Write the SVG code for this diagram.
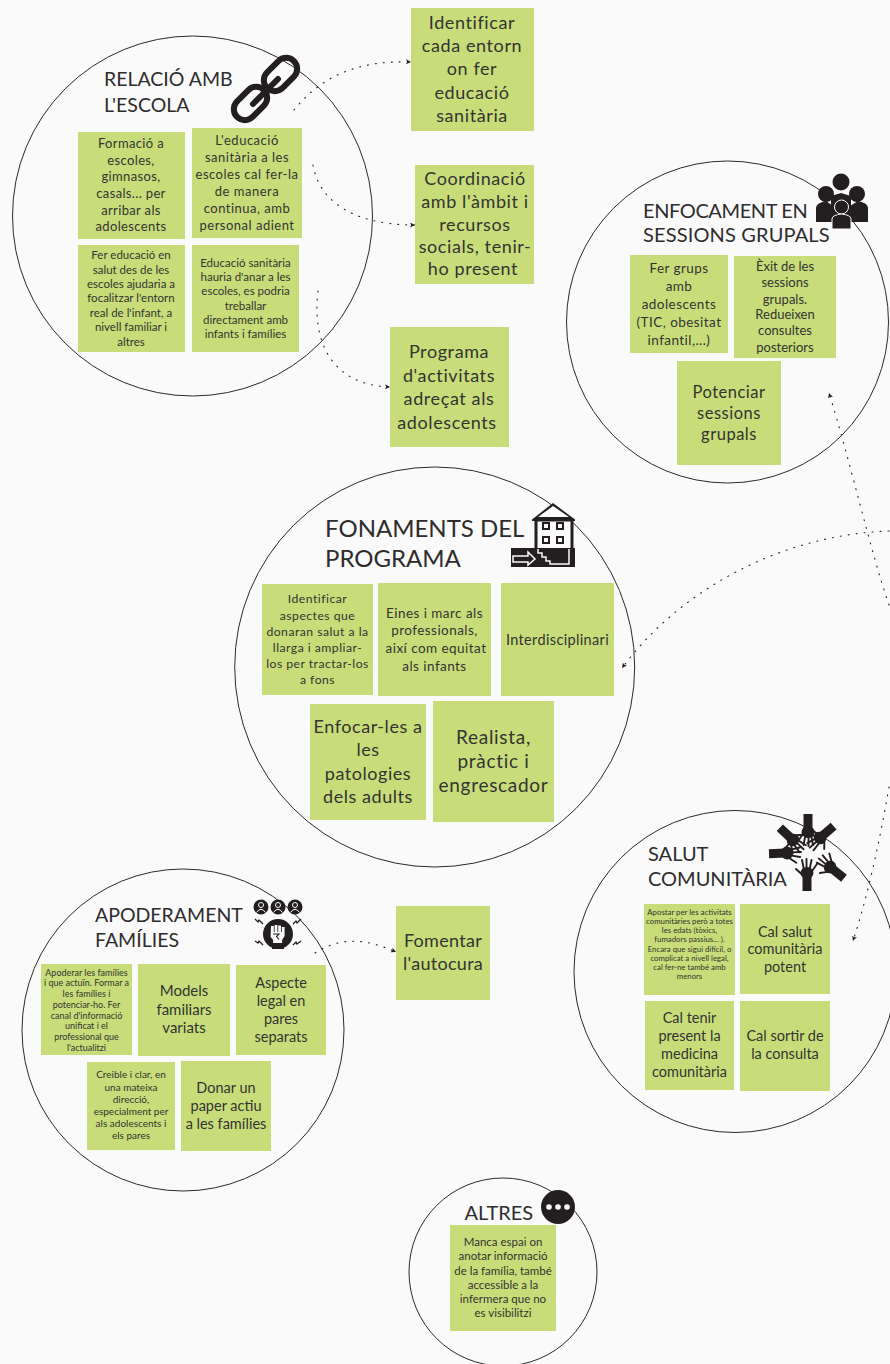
<svg xmlns="http://www.w3.org/2000/svg" xmlns:xlink="http://www.w3.org/1999/xlink" width="890" height="1364" viewBox="0 0 890 1364">
<style>
text{font-family:"Lato","Open Sans","Liberation Sans",sans-serif;fill:#333;text-anchor:middle}
.title{text-anchor:start;fill:#2e2c2d}
.circle{fill:none;stroke:#2a2a2a;stroke-width:1}
.note{fill:#c8dd79}
.ic{fill:#231f20}
.wh{fill:#fafafa}
.link{fill:none;stroke:#231f20;stroke-width:1.100;stroke-dasharray:1 7;stroke-linecap:round}
</style>
<defs>
<marker id="ah" markerWidth="6" markerHeight="6" refX="5" refY="2.500" orient="auto" markerUnits="userSpaceOnUse"><path d="M0,0L5,2.500L0,5L1.200,2.500Z" fill="#231f20"/></marker>
<g id="hand"><rect x="-4.500" y="-18" width="9" height="16" class="ic"/><ellipse cx="0" cy="0" rx="6.500" ry="6" class="ic"/><path d="M-5,2L-10,9M-2.500,3L-4.500,13M0.500,4L0.500,14M3,3L5,13M5.500,-1L11,4" fill="none" stroke="#231f20" stroke-width="1.900" stroke-linecap="round"/></g>
</defs>
<rect width="890" height="1364" fill="#fafafa"/>

<g id="circles">
<circle class="circle" cx="192.500" cy="216" r="180"/>
<circle class="circle" cx="727.500" cy="322" r="161"/>
<circle class="circle" cx="434.700" cy="667" r="200"/>
<circle class="circle" cx="735" cy="971.500" r="161"/>
<circle class="circle" cx="183" cy="1030" r="161"/>
<circle class="circle" cx="503" cy="1272" r="94"/>
</g>

<g id="titles">
<text class="title" font-size="19.500"><tspan x="104" y="86">RELACIÓ AMB</tspan><tspan x="104" y="111.500">L'ESCOLA</tspan></text>
<text class="title" font-size="20"><tspan x="643" y="218" letter-spacing="-0.400">ENFOCAMENT EN</tspan><tspan x="643" y="242" letter-spacing="0.150">SESSIONS GRUPALS</tspan></text>
<text class="title" font-size="24"><tspan x="325" y="536.500">FONAMENTS DEL</tspan><tspan x="325" y="566.500">PROGRAMA</tspan></text>
<text class="title" font-size="20"><tspan x="648" y="861">SALUT</tspan><tspan x="648" y="886">COMUNITÀRIA</tspan></text>
<text class="title" font-size="19.500"><tspan x="95" y="922">APODERAMENT</tspan><tspan x="95" y="947">FAMÍLIES</tspan></text>
<text class="title" font-size="20" x="464.500" y="1219.500">ALTRES</text>
</g>

<g id="icon-link" fill="none" stroke="#231f20">
<rect x="-11" y="-19" width="22" height="38" rx="11" stroke-width="6" transform="translate(280.500,74.500) rotate(45)"/>
<rect x="-11" y="-19" width="22" height="38" rx="11" stroke-width="6" transform="translate(250.500,103.500) rotate(45)"/>
<path d="M253,104L278,79" stroke-width="6" stroke-linecap="round"/>
</g>
<g id="icon-group">
<circle class="ic" cx="841" cy="182" r="8.500"/><circle class="ic" cx="826" cy="194" r="8"/><circle class="ic" cx="857" cy="194" r="8"/>
<path class="ic" d="M816,222V208Q816,203 826,201L833,206H850L858,201Q868,203 868,208V222Z"/>
<path class="ic" d="M831,196L841,193L851,196L851,215H831Z"/>
<circle class="ic" cx="841.500" cy="207" r="7" stroke="#fafafa" stroke-width="1"/>
<path class="ic" d="M832,229V219Q832,215 841.500,214Q851,215 851,219V229Z" stroke="#fafafa" stroke-width="1"/>
</g>
<g id="icon-house">
<path class="ic" d="M532,519.500L553,503L575,519.500V521H532Z"/><path class="wh" d="M538,517L553,506L569,517Z"/>
<rect x="536" y="520" width="36" height="30" class="wh" stroke="#231f20" stroke-width="3"/>
<g fill="#fafafa" stroke="#231f20" stroke-width="2"><rect x="543" y="523" width="6" height="6"/><rect x="557" y="523" width="6" height="6"/><rect x="543" y="537" width="6" height="6"/><rect x="557" y="537" width="6" height="6"/></g>
<rect class="ic" x="511" y="548" width="64" height="19"/>
<path d="M513,556H528V552L535,559L528,565V562H513Z" fill="none" stroke="#fafafa" stroke-width="1.500"/>
<path d="M538,549V553H542V557H546V561H550V564H569V549" fill="none" stroke="#fafafa" stroke-width="1.500"/>
</g>
<g id="icon-hands">
<use xlink:href="#hand" href="#hand" transform="translate(808,832)"/>
<use xlink:href="#hand" href="#hand" transform="translate(820,838) rotate(49)"/>
<use xlink:href="#hand" href="#hand" transform="translate(830,867) rotate(129)"/>
<use xlink:href="#hand" href="#hand" transform="translate(807,873) rotate(180)"/>
<use xlink:href="#hand" href="#hand" transform="translate(787,853) rotate(268)"/>
<use xlink:href="#hand" href="#hand" transform="translate(793,840) rotate(-47)"/>
</g>
<g id="icon-fist">
<circle class="ic" cx="261" cy="907" r="7.500"/><circle class="ic" cx="278" cy="907" r="7.500"/><circle class="ic" cx="295" cy="907" r="7.500"/>
<g fill="none" stroke="#fafafa" stroke-width="1"><circle cx="261" cy="905" r="2.500"/><path d="M256.500,912.500Q261,906 265.500,912.500"/><circle cx="278" cy="905" r="2.500"/><path d="M273.500,912.500Q278,906 282.500,912.500"/><circle cx="295" cy="905" r="2.500"/><path d="M290.500,912.500Q295,906 299.500,912.500"/></g>
<circle class="ic" cx="278" cy="934" r="15"/>
<path class="wh" d="M271,926h2.800v6h.8v-7h2.800v7h.8v-6.500h2.800v6.500h.8v-5h2.800v9l-2.500,4v3h-9v-3l-2.500,-3Z"/>
<path d="M273,934h6l-2.500,2.500l2.500,3" fill="none" stroke="#231f20" stroke-width="1.100"/>
<path class="ic" d="M272,946h12v3h-12Z"/>
<g fill="none" stroke="#231f20" stroke-width="1.300"><path d="M255,919l3,3l1,-2l4,4"/><path d="M293,924l3,-3l1,2l4,-4"/><path d="M255,941l3,2l1,-2l4,4"/><path d="M293,945l3,-3l1,2l4,-3"/></g>
</g>
<g id="icon-more">
<circle class="ic" cx="558" cy="1207" r="17"/><circle class="wh" cx="549" cy="1207" r="2.800"/><circle class="wh" cx="558" cy="1207" r="2.800"/><circle class="wh" cx="567" cy="1207" r="2.800"/>
</g>

<g id="connectors">
<path class="link" marker-end="url(#ah)" d="M294,110C320,78 355,60 411,62"/>
<path class="link" marker-end="url(#ah)" d="M313,165C318,195 345,225 415,225"/>
<path class="link" marker-end="url(#ah)" d="M318,291C312,340 330,385 390,387"/>
<path class="link" marker-end="url(#ah)" d="M315,953C340,937 365,938 396,952"/>
<path class="link" marker-end="url(#ah)" d="M889,605C870,550 850,460 829,393"/>
<path class="link" marker-end="url(#ah)" d="M889,531C780,535 680,590 622,668"/>
<path class="link" marker-end="url(#ah)" d="M889,787C880,840 868,895 853,941"/>
</g>

<g id="n1"><rect class="note" x="411" y="8" width="123" height="123"/><text font-size="18" letter-spacing="0.600"><tspan x="472" y="29">Identificar</tspan><tspan x="472" y="52">cada entorn</tspan><tspan x="472" y="75">on fer</tspan><tspan x="472" y="99">educació</tspan><tspan x="472" y="122">sanitària</tspan></text></g>
<g id="n2"><rect class="note" x="415" y="165" width="119" height="119"/><text font-size="18" letter-spacing="0.600"><tspan x="475" y="185">Coordinació</tspan><tspan x="475" y="208">amb l'àmbit i</tspan><tspan x="475" y="231">recursos</tspan><tspan x="475" y="253">socials, tenir-</tspan><tspan x="473" y="275">ho present</tspan></text></g>
<g id="n3"><rect class="note" x="390" y="327" width="119" height="120"/><text font-size="18" letter-spacing="0.600"><tspan x="449" y="358">Programa</tspan><tspan x="449" y="382">d'activitats</tspan><tspan x="449" y="405">adreçat als</tspan><tspan x="447" y="429">adolescents</tspan></text></g>
<g id="n4"><rect class="note" x="78" y="132" width="107" height="107"/><text font-size="13" letter-spacing="0.350"><tspan x="131" y="148">Formació a</tspan><tspan x="131" y="165">escoles,</tspan><tspan x="131" y="181">gimnasos,</tspan><tspan x="131" y="198">casals... per</tspan><tspan x="131" y="215">arribar als</tspan><tspan x="131" y="231">adolescents</tspan></text></g>
<g id="n5"><rect class="note" x="192" y="128" width="110" height="110"/><text font-size="13" letter-spacing="0.500"><tspan x="247" y="145">L'educació</tspan><tspan x="247" y="162">sanitària a les</tspan><tspan x="247" y="179">escoles cal fer-la</tspan><tspan x="247" y="196">de manera</tspan><tspan x="247" y="213">continua, amb</tspan><tspan x="247" y="230">personal adient</tspan></text></g>
<g id="n6"><rect class="note" x="78" y="245" width="107" height="107"/><text font-size="11.500"><tspan x="131" y="259">Fer educació en</tspan><tspan x="131" y="274">salut des de les</tspan><tspan x="131" y="288">escoles ajudaria a</tspan><tspan x="131" y="302">focalitzar l'entorn</tspan><tspan x="131" y="317">real de l'infant, a</tspan><tspan x="131" y="331">nivell familiar i</tspan><tspan x="131" y="346">altres</tspan></text></g>
<g id="n7"><rect class="note" x="192" y="245" width="107" height="107"/><text font-size="11.500"><tspan x="245.500" y="267">Educació sanitària</tspan><tspan x="245.500" y="281">hauria d'anar a les</tspan><tspan x="245.500" y="295">escoles, es podria</tspan><tspan x="245.500" y="310">treballar</tspan><tspan x="245.500" y="324">directament amb</tspan><tspan x="245.500" y="338">infants i famílies</tspan></text></g>

<g id="n8"><rect class="note" x="630" y="255" width="98" height="98"/><text font-size="13.500" letter-spacing="0.450"><tspan x="679" y="273">Fer grups</tspan><tspan x="679" y="291">amb</tspan><tspan x="679" y="309">adolescents</tspan><tspan x="679" y="327">(TIC, obesitat</tspan><tspan x="679" y="345">infantil,...)</tspan></text></g>
<g id="n9"><rect class="note" x="734" y="256" width="102" height="102"/><text font-size="13"><tspan x="785" y="271">Èxit de les</tspan><tspan x="785" y="287">sessions</tspan><tspan x="785" y="304">grupals.</tspan><tspan x="785" y="319">Redueixen</tspan><tspan x="785" y="335">consultes</tspan><tspan x="785" y="352">posteriors</tspan></text></g>
<g id="n10"><rect class="note" x="677" y="361" width="104" height="104"/><text font-size="16.500" letter-spacing="0.500"><tspan x="729" y="397.500">Potenciar</tspan><tspan x="729" y="418.500">sessions</tspan><tspan x="729" y="439.500">grupals</tspan></text></g>

<g id="n11"><rect class="note" x="262" y="584" width="111" height="111"/><text font-size="12.200" letter-spacing="0.480"><tspan x="317.500" y="603">Identificar</tspan><tspan x="317.500" y="620">aspectes que</tspan><tspan x="317.500" y="636">donaran salut a la</tspan><tspan x="317.500" y="652">llarga i ampliar-</tspan><tspan x="317.500" y="668">los per tractar-los</tspan><tspan x="317.500" y="684">a fons</tspan></text></g>
<g id="n12"><rect class="note" x="378" y="583" width="113" height="113"/><text font-size="13.500" letter-spacing="0.450"><tspan x="434.500" y="618">Eines i marc als</tspan><tspan x="434.500" y="635">professionals,</tspan><tspan x="436" y="653">així com equitat</tspan><tspan x="434.500" y="671">als infants</tspan></text></g>
<g id="n13"><rect class="note" x="501" y="583" width="113" height="113"/><text font-size="14.500" letter-spacing="0.350" x="557.500" y="645">Interdisciplinari</text></g>
<g id="n14"><rect class="note" x="310" y="704" width="116" height="116"/><text font-size="18" letter-spacing="0.550"><tspan x="368" y="733">Enfocar-les a</tspan><tspan x="368" y="756">les</tspan><tspan x="368" y="780">patologies</tspan><tspan x="368" y="803">dels adults</tspan></text></g>
<g id="n15"><rect class="note" x="433" y="701" width="121" height="121"/><text font-size="19" letter-spacing="0.700"><tspan x="493.500" y="744">Realista,</tspan><tspan x="493.500" y="768">pràctic i</tspan><tspan x="493.500" y="792">engrescador</tspan></text></g>

<g id="n16"><rect class="note" x="644" y="904" width="91" height="91"/><text font-size="7.800"><tspan x="689.500" y="915">Apostar per les activitats</tspan><tspan x="689.500" y="924">comunitàries però a totes</tspan><tspan x="689.500" y="933">les edats (tòxics,</tspan><tspan x="689.500" y="942">fumadors passius... ).</tspan><tspan x="689.500" y="952">Encara que sigui difícil, o</tspan><tspan x="689.500" y="961">complicat a nivell legal,</tspan><tspan x="689.500" y="970">cal fer-ne també amb</tspan><tspan x="689.500" y="979">menors</tspan></text></g>
<g id="n17"><rect class="note" x="740" y="904" width="90" height="90"/><text font-size="14.500"><tspan x="785" y="937">Cal salut</tspan><tspan x="785" y="954">comunitària</tspan><tspan x="785" y="972">potent</tspan></text></g>
<g id="n18"><rect class="note" x="645" y="1001" width="89" height="89"/><text font-size="14.500"><tspan x="689.500" y="1023">Cal tenir</tspan><tspan x="689.500" y="1041">present la</tspan><tspan x="689.500" y="1059">medicina</tspan><tspan x="689.500" y="1077">comunitària</tspan></text></g>
<g id="n19"><rect class="note" x="740" y="1001" width="90" height="90"/><text font-size="14.500"><tspan x="785" y="1041">Cal sortir de</tspan><tspan x="785" y="1059">la consulta</tspan></text></g>

<g id="n20"><rect class="note" x="41" y="964" width="91" height="91"/><text font-size="9"><tspan x="86.500" y="976">Apoderar les famílies</tspan><tspan x="86.500" y="986">i que actuïn. Formar a</tspan><tspan x="86.500" y="997">les famílies i</tspan><tspan x="86.500" y="1008">potenciar-ho. Fer</tspan><tspan x="86.500" y="1019">canal d'informació</tspan><tspan x="86.500" y="1029">unificat i el</tspan><tspan x="86.500" y="1040">professional que</tspan><tspan x="86.500" y="1051">l'actualitzi</tspan></text></g>
<g id="n21"><rect class="note" x="138" y="964" width="92" height="92"/><text font-size="15"><tspan x="184" y="996">Models</tspan><tspan x="184" y="1015">familiars</tspan><tspan x="184" y="1033">variats</tspan></text></g>
<g id="n22"><rect class="note" x="236" y="965" width="90" height="90"/><text font-size="14.500"><tspan x="281" y="988">Aspecte</tspan><tspan x="281" y="1006">legal en</tspan><tspan x="281" y="1024">pares</tspan><tspan x="281" y="1042">separats</tspan></text></g>
<g id="n23"><rect class="note" x="87" y="1062" width="88" height="88"/><text font-size="10"><tspan x="131" y="1078">Creible i clar, en</tspan><tspan x="131" y="1091">una mateixa</tspan><tspan x="131" y="1103">direcció,</tspan><tspan x="131" y="1115">especialment per</tspan><tspan x="131" y="1127">als adolescents i</tspan><tspan x="131" y="1139">els pares</tspan></text></g>
<g id="n24"><rect class="note" x="181" y="1061" width="90" height="90"/><text font-size="14.500"><tspan x="226" y="1093">Donar un</tspan><tspan x="226" y="1111">paper actiu</tspan><tspan x="226" y="1129">a les famílies</tspan></text></g>
<g id="n25"><rect class="note" x="396" y="906" width="94" height="94"/><text font-size="18" letter-spacing="0.300"><tspan x="443" y="947">Fomentar</tspan><tspan x="443" y="970">l'autocura</tspan></text></g>

<g id="n26"><rect class="note" x="450" y="1225" width="106" height="106"/><text font-size="11.500"><tspan x="503" y="1246">Manca espai on</tspan><tspan x="503" y="1260">anotar informació</tspan><tspan x="503" y="1275">de la família, també</tspan><tspan x="503" y="1289">accessible a la</tspan><tspan x="503" y="1303">infermera que no</tspan><tspan x="503" y="1317">es visibilitzi</tspan></text></g>
</svg>
